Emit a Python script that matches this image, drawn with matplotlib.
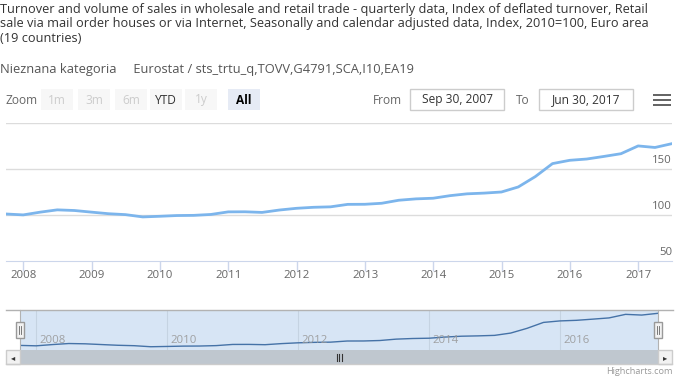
import matplotlib
matplotlib.use("Agg")
import matplotlib.pyplot as plt
import matplotlib.dates as mdates
from matplotlib.patches import Rectangle
import pandas as pd

W, H = 688, 379
plt.rcParams['font.family'] = ['Open Sans', 'DejaVu Sans']

title_lines = [
    "Turnover and volume of sales in wholesale and retail trade - quarterly data, Index of deflated turnover, Retail",
    "sale via mail order houses or via Internet, Seasonally and calendar adjusted data, Index, 2010=100, Euro area",
    "(19 countries)",
]
subtitle = "Nieznana kategoria     Eurostat / sts_trtu_q,TOVV,G4791,SCA,I10,EA19"

dates = pd.date_range("2007-09-30", periods=40, freq="QE")
values = [101.0, 100.0, 103.0, 105.5, 104.8, 103.0, 101.3, 100.3, 97.8, 98.5,
          99.3, 99.5, 100.5, 103.3, 103.4, 102.7, 105.3, 107.2, 108.3, 108.8,
          111.5, 111.6, 112.7, 116.0, 117.5, 118.2, 121.0, 123.0, 123.8, 125.0,
          130.5, 141.8, 156.0, 159.6, 161.0, 163.8, 166.8, 175.3, 173.6, 177.8]
y_labels = [50, 100, 150]
grid_vals = [100, 150, 200]
nav_years = [2008, 2010, 2012, 2014, 2016]
zoom_buttons = ["1m", "3m", "6m", "YTD", "1y", "All"]
from_date = "Sep 30, 2007"
to_date = "Jun 30, 2017"

fig = plt.figure(figsize=(W / 100, H / 100), dpi=100)


def fx(x):
    return x / W


def fy(y):
    return 1 - y / H


def px_axes(l, t, r, b):
    return fig.add_axes([fx(l), fy(b), (r - l) / W, (b - t) / H])


# ---- Titles ----
tcol = "#333333"
for i, line in enumerate(title_lines):
    fig.text(fx(0), fy(9 + i * 14.5), line, fontsize=9.15, color=tcol,
             ha="left", va="center")
fig.text(fx(0), fy(70), subtitle, fontsize=9.3, color="#555555", ha="left", va="center")

# ---- Range selector ----
fig.text(fx(6), fy(100), "Zoom", fontsize=8.6, color="#666666", ha="left", va="center")
centers = [57, 94, 131, 166, 201, 244]
for lab, cx in zip(zoom_buttons, centers):
    if lab == "All":
        bg, col, wt = "#e6ebf5", "#000000", "bold"
    elif lab == "YTD":
        bg, col, wt = "#f7f7f7", "#333333", "normal"
    else:
        bg, col, wt = "#f7f7f7", "#cccccc", "normal"
    fig.patches.append(Rectangle((fx(cx - 16), fy(110)), 32 / W, 21 / H,
                                 transform=fig.transFigure, facecolor=bg,
                                 edgecolor="none"))
    fig.text(fx(cx), fy(100), lab, fontsize=8.6, color=col, ha="center",
             va="center", fontweight=wt)

fig.text(fx(402), fy(100), "From", fontsize=8.6, color="#666666", ha="right", va="center")
fig.text(fx(530), fy(100), "To", fontsize=8.6, color="#666666", ha="right", va="center")
for (l, r, s) in [(410, 504, from_date), (539, 633, to_date)]:
    fig.patches.append(Rectangle((fx(l), fy(110)), (r - l) / W, 21 / H,
                                 transform=fig.transFigure, facecolor="white",
                                 edgecolor="#cccccc", linewidth=1))
    fig.text(fx((l + r) / 2), fy(100), s, fontsize=8.6, color="#333333",
             ha="center", va="center")
# menu icon
for yy in (95, 100, 105):
    fig.patches.append(Rectangle((fx(653), fy(yy + 1.3)), 18 / W, 2.6 / H,
                                 transform=fig.transFigure, facecolor="#666666",
                                 edgecolor="none"))

# ---- Main chart ----
ax = px_axes(6, 123.3, 672, 260.7)
ax.plot(dates, values, color="#7cb5ec", linewidth=2, solid_joinstyle="round")
ax.set_xlim(pd.Timestamp("2007-09-30"), pd.Timestamp("2017-06-30"))
ax.set_ylim(50, 200)
for g in grid_vals:
    ax.axhline(g, color="#dcdcdc", linewidth=1, zorder=0)
for s in ("top", "left", "right"):
    ax.spines[s].set_visible(False)
ax.spines["bottom"].set_color("#ccd6eb")
ax.set_yticks([])
ax.xaxis.set_major_locator(mdates.YearLocator())
ax.xaxis.set_major_formatter(mdates.DateFormatter("%Y"))
ax.tick_params(axis="x", length=7, width=1, color="#ccd6eb", labelcolor="#666666",
               labelsize=8.2, pad=-0.5)
for v in y_labels:
    ax.annotate(str(v), xy=(1, v), xycoords=ax.get_yaxis_transform(),
                xytext=(0, 3), textcoords="offset pixels", ha="right", va="bottom",
                fontsize=8.2, color="#666666")

# ---- Navigator ----
nav = px_axes(19.7, 310.3, 658, 350)
nav.set_facecolor("#d7e5f5")
nav.plot(dates, values, color="#4572a7", linewidth=1)
nav.set_xlim(pd.Timestamp("2007-09-30"), pd.Timestamp("2017-06-30"))
nav.set_ylim(90, 185)
for yr in nav_years:
    t = mdates.date2num(pd.Timestamp(f"{yr}-01-01"))
    nav.axvline(t, color="#c5d3e2", linewidth=0.8, zorder=0)
    nav.annotate(str(yr), xy=(t, 0), xycoords=nav.get_xaxis_transform(),
                 xytext=(3, 4), textcoords="offset pixels", ha="left", va="bottom",
                 fontsize=8.2, color="#999999", alpha=0.9)
nav.set_xticks([])
nav.set_yticks([])
for s in nav.spines.values():
    s.set_visible(False)
nav.spines["left"].set_visible(True)
nav.spines["left"].set_color("#b2b2b2")
nav.spines["right"].set_visible(True)
nav.spines["right"].set_color("#b2b2b2")

# navigator top outline
fig.add_artist(plt.Line2D([fx(6), fx(673)], [fy(310.3), fy(310.3)], color="#b2b2b2",
                          linewidth=1, transform=fig.transFigure))

# handles
for cx in (19.7, 658):
    fig.patches.append(Rectangle((fx(cx - 4), fy(337.5)), 8 / W, 15.5 / H,
                                 transform=fig.transFigure, facecolor="#f2f2f2",
                                 edgecolor="#999999", linewidth=1, zorder=5))
    for dx in (-1.2, 1.2):
        fig.add_artist(plt.Line2D([fx(cx + dx), fx(cx + dx)], [fy(326), fy(334)],
                                  color="#666666", linewidth=0.6,
                                  transform=fig.transFigure, zorder=6))

# ---- Scrollbar ----
fig.patches.append(Rectangle((fx(19.7), fy(364.3)), (658 - 19.7) / W, 14.3 / H,
                             transform=fig.transFigure, facecolor="#bfc7cf",
                             edgecolor="none"))
for (l, r, mk) in [(6, 19.7, "\u25c2"), (658, 672.3, "\u25b8")]:
    fig.patches.append(Rectangle((fx(l), fy(364.3)), (r - l) / W, 14.3 / H,
                                 transform=fig.transFigure, facecolor="#f2f2f2",
                                 edgecolor="#cccccc", linewidth=1))
    fig.text(fx((l + r) / 2), fy(357.2), mk, fontsize=6, color="#333333",
             ha="center", va="center", family=["DejaVu Sans"])
fig.add_artist(plt.Line2D([fx(6), fx(672.3)], [fy(364.3), fy(364.3)], color="#cccccc",
                          linewidth=1, transform=fig.transFigure))
for dx in (-2.5, 0, 2.5):
    fig.add_artist(plt.Line2D([fx(339 + dx), fx(339 + dx)], [fy(353.5), fy(361)],
                              color="#333333", linewidth=0.8, transform=fig.transFigure))

# credits
fig.text(fx(672.5), fy(372), "Highcharts.com", fontsize=6.6, color="#999999",
         ha="right", va="center")

fig.savefig("out.png", dpi=100)
